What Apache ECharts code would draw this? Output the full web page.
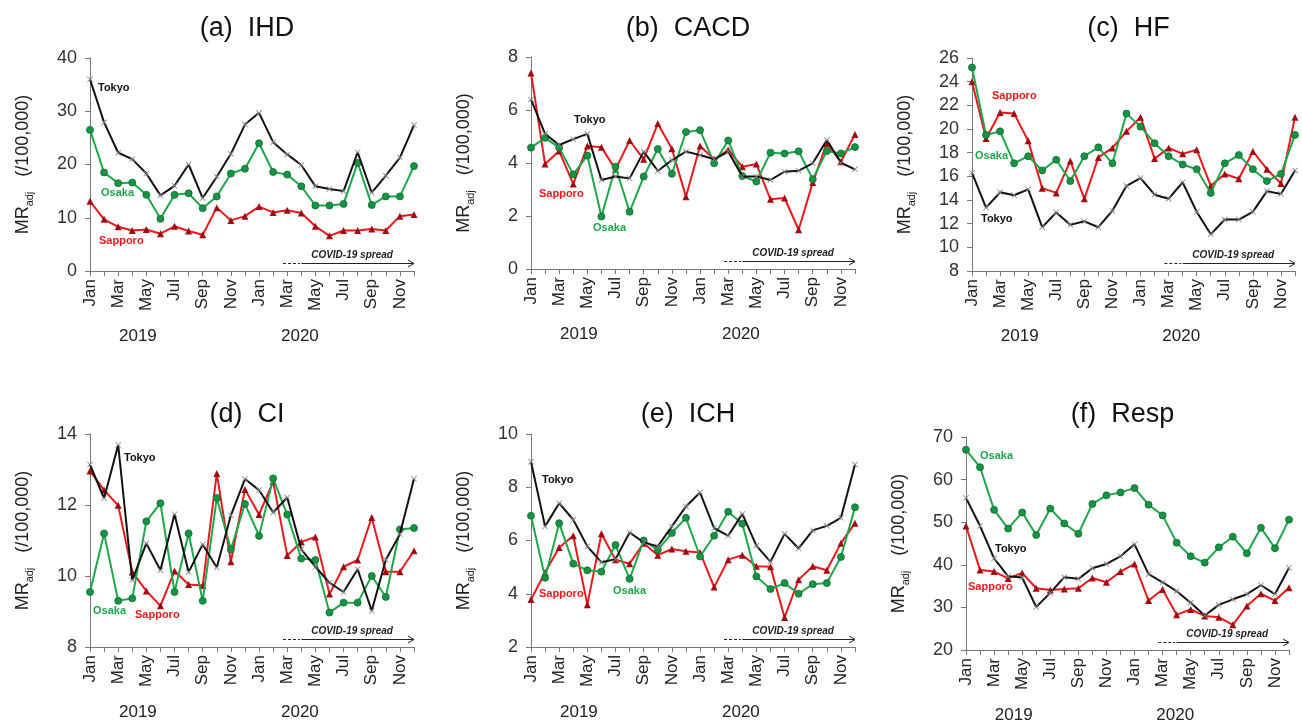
<!DOCTYPE html>
<html>
<head>
<meta charset="utf-8">
<script src="https://cdn.jsdelivr.net/npm/echarts@6/dist/echarts.min.js"></script>
<style>
  html, body { margin: 0; padding: 0; background: #fff; }
  #chart { width: 1302px; height: 725px; }
</style>
</head>
<body>
<div id="chart"></div>
<script>
// months Jan 2019 .. Dec 2020
var months = ['Jan','Feb','Mar','Apr','May','Jun','Jul','Aug','Sep','Oct','Nov','Dec',
              'Jan','Feb','Mar','Apr','May','Jun','Jul','Aug','Sep','Oct','Nov','Dec'];
var years = ['2019', '2020'];
var cities = ['Tokyo', 'Osaka', 'Sapporo'];
var titles = ['(a)  IHD', '(b)  CACD', '(c)  HF', '(d)  CI', '(e)  ICH', '(f)  Resp'];

// (a) IHD
var tokyoIHD   = [36.0,27.9,22.2,21.0,18.3,14.2,16.0,20.0,13.7,17.7,22.0,27.5,29.7,24.2,21.9,19.9,15.9,15.4,15.0,22.3,14.7,17.9,21.3,27.4];
var osakaIHD   = [26.5,18.5,16.5,16.6,14.3,9.8,14.3,14.6,11.8,14.0,18.3,19.2,24.0,18.6,18.1,15.9,12.3,12.3,12.6,20.3,12.4,14.0,14.0,19.7];
var sapporoIHD = [13.1,9.7,8.3,7.6,7.8,7.0,8.4,7.5,6.8,11.9,9.5,10.3,12.1,11.0,11.4,10.9,8.4,6.6,7.6,7.6,7.9,7.6,10.3,10.6];
// (b) CACD
var tokyoCACD   = [6.4,5.1,4.68,4.9,5.1,3.36,3.49,3.42,4.43,3.7,4.11,4.43,4.3,4.14,4.43,3.49,3.49,3.36,3.67,3.71,3.99,4.87,4.01,3.76];
var osakaCACD   = [4.58,4.95,4.58,3.57,4.28,1.98,3.86,2.16,3.49,4.53,3.59,5.17,5.24,3.99,4.85,3.51,3.3,4.39,4.36,4.44,3.39,4.45,4.36,4.6];
var sapporoCACD = [7.4,3.96,4.45,3.21,4.64,4.59,3.76,4.85,4.14,5.49,4.54,2.73,4.64,4.14,4.49,3.86,3.96,2.63,2.68,1.48,3.26,4.74,4.05,5.08];
// (c) HF
var tokyoHF   = [16.3,13.35,14.65,14.4,14.9,11.7,12.95,11.9,12.2,11.7,13.1,15.2,15.85,14.45,14.1,15.5,13.0,11.1,12.35,12.35,13.0,14.75,14.5,16.5];
var osakaHF   = [25.2,19.5,19.8,17.1,17.7,16.5,17.4,15.6,17.7,18.45,17.1,21.3,20.2,18.8,17.7,17.0,16.6,14.6,17.1,17.8,16.6,15.6,16.2,19.5];
var sapporoHF = [24.0,19.2,21.4,21.3,19.0,15.0,14.6,17.3,14.1,17.6,18.4,19.8,21.0,17.5,18.4,17.9,18.25,15.2,16.2,15.8,18.1,16.6,15.4,21.0];
// (d) CI
var tokyoCI   = [13.14,12.19,13.69,9.88,10.92,10.16,11.74,10.11,10.89,10.24,11.71,12.73,12.42,11.79,12.21,10.75,10.26,9.81,9.55,10.19,9.02,10.46,11.18,12.74];
var osakaCI   = [9.55,11.2,9.3,9.37,11.54,12.05,9.55,11.2,9.3,12.2,10.75,12.03,11.13,12.75,11.73,10.49,10.45,8.97,9.25,9.25,10.0,9.41,11.31,11.35];
var sapporoCI = [12.96,12.42,11.99,10.11,9.58,9.16,10.14,9.76,9.73,12.89,10.4,12.44,11.73,12.66,10.58,10.96,11.1,9.49,10.26,10.45,11.65,10.12,10.12,10.71];
// (e) ICH
var tokyoICH   = [8.96,6.53,7.4,6.78,5.78,5.18,5.3,6.3,5.93,5.78,6.53,7.28,7.8,6.46,6.18,7.0,5.81,5.2,6.25,5.7,6.38,6.55,6.85,8.85];
var osakaICH   = [6.93,4.6,6.65,5.13,4.88,4.83,5.83,4.56,6.0,5.65,6.28,6.85,5.4,6.18,7.08,6.63,4.65,4.18,4.4,4.0,4.36,4.4,5.38,7.25];
var sapporoICH = [3.78,4.8,5.74,6.18,3.59,6.25,5.28,5.13,5.9,5.45,5.68,5.6,5.55,4.25,5.28,5.45,5.03,5.01,3.11,4.53,5.03,4.88,5.9,6.65];
// (f) Resp
var tokyoResp   = [55.7,49.1,41.5,37.3,37.0,30.1,33.4,37.1,36.7,39.2,40.2,42.0,44.8,37.8,35.9,33.8,31.1,28.1,30.6,31.9,33.1,35.2,33.1,39.3];
var osakaResp   = [67.0,62.9,52.9,48.5,52.3,47.0,53.2,49.7,47.3,54.3,56.3,57.0,58.0,54.1,51.6,45.2,42.0,40.5,44.1,46.6,42.7,48.7,43.9,50.6];
var sapporoResp = [49.1,38.8,38.4,36.8,38.1,34.5,34.1,34.3,34.5,36.9,35.9,38.4,40.2,31.6,34.2,28.3,29.5,28.0,27.7,25.9,30.3,33.2,31.6,34.6];

var panelData = [
  [tokyoIHD, osakaIHD, sapporoIHD],
  [tokyoCACD, osakaCACD, sapporoCACD],
  [tokyoHF, osakaHF, sapporoHF],
  [tokyoCI, osakaCI, sapporoCI],
  [tokyoICH, osakaICH, sapporoICH],
  [tokyoResp, osakaResp, sapporoResp]
];
var yMin = [0, 0, 8, 8, 2, 20];
var yMax = [40, 8, 26, 14, 10, 70];
var yStep = [10, 2, 2, 2, 2, 10];

// layout
var grids = [
  {left: 90,  top: 58,  width: 324, height: 213},
  {left: 531, top: 57,  width: 324, height: 212},
  {left: 972, top: 58,  width: 323, height: 213},
  {left: 90,  top: 434, width: 324, height: 213},
  {left: 531, top: 434, width: 324, height: 213},
  {left: 966, top: 437, width: 323, height: 213}
];
var titleTop = [10, 10, 10, 396, 396, 396];
// city label offsets from grid top-left, per panel: Tokyo, Osaka, Sapporo
var labelOffsets = [
  [[8, 31], [11, 136], [9, 184]],
  [[43, 64], [62, 172], [8, 138]],
  [[9, 162], [3, 99], [20, 39]],
  [[34, 25], [3, 178], [45, 182]],
  [[11, 47], [82, 158], [8, 161]],
  [[29, 113], [14, 20], [2, 151]]
];

var lineColors = ['#111111', '#1fa64a', '#e8191c'];
var markColors = ['#8a8a8a', '#179443', '#a00d10'];
var xSymbol = 'path://M0,1L1,0L5,4L9,0L10,1L6,5L10,9L9,10L5,6L1,10L0,9L4,5Z';
var symbols = [xSymbol, 'circle', 'triangle'];
var symbolSizes = [6, 7, 7];
var font = 'Liberation Sans, Arial, sans-serif';

var option = {
  backgroundColor: '#fff',
  animation: false,
  title: [],
  grid: [],
  xAxis: [],
  yAxis: [],
  series: [],
  graphic: []
};

grids.forEach(function(g, p){
  var step = g.width / 23;
  option.grid.push({left: g.left, top: g.top, width: g.width, height: g.height});
  option.title.push({
    text: titles[p],
    left: g.left + g.width / 2 - 10,
    top: titleTop[p],
    textAlign: 'center',
    textStyle: {fontFamily: font, fontSize: 27, fontWeight: 'normal', color: '#111'}
  });
  option.xAxis.push({
    type: 'category', gridIndex: p, data: months, boundaryGap: false,
    axisLine: {lineStyle: {color: '#777', width: 1}},
    axisTick: {show: true, interval: 0, length: 5, lineStyle: {color: '#777'}},
    axisLabel: {interval: 1, rotate: 90, margin: 8, fontFamily: font, fontSize: 17, color: '#222'},
    splitLine: {show: false}
  });
  option.yAxis.push({
    type: 'value', gridIndex: p, min: yMin[p], max: yMax[p], interval: yStep[p],
    axisLine: {show: true, lineStyle: {color: '#777', width: 1}},
    axisTick: {show: true, length: 5, lineStyle: {color: '#777'}},
    axisLabel: {fontFamily: font, fontSize: 18, color: '#333', margin: 13},
    splitLine: {show: false},
    name: '{m|MR}{s|adj}{m|   (/100,000)}',
    nameLocation: 'middle', nameRotate: 90, nameGap: 58,
    nameTextStyle: {
      rich: {
        m: {fontFamily: font, fontSize: 18, color: '#222'},
        s: {fontFamily: font, fontSize: 11, color: '#222', verticalAlign: 'bottom', padding: [0, 0, -3, 0]}
      }
    }
  });
  cities.forEach(function(c, k){
    option.series.push({
      name: c, type: 'line', xAxisIndex: p, yAxisIndex: p,
      data: panelData[p][k],
      symbol: symbols[k], symbolSize: symbolSizes[k], showAllSymbol: true,
      lineStyle: {color: lineColors[k], width: 2},
      itemStyle: {color: markColors[k], borderColor: k === 1 ? '#0e6b2e' : markColors[k], borderWidth: k === 1 ? 0.8 : 0},
      z: 3 - k
    });
    option.graphic.push({
      type: 'text', left: g.left + labelOffsets[p][k][0], top: g.top + labelOffsets[p][k][1] - 7,
      style: {text: c, fill: lineColors[k], font: 'bold 11px ' + font}
    });
  });
  // year labels
  option.graphic.push({
    type: 'text', x: g.left + 3.4 * step, y: g.top + g.height + 65,
    style: {text: years[0], fill: '#222', font: '17px ' + font, textAlign: 'center', textVerticalAlign: 'middle'}
  });
  option.graphic.push({
    type: 'text', x: g.left + 14.9 * step, y: g.top + g.height + 65,
    style: {text: years[1], fill: '#222', font: '17px ' + font, textAlign: 'center', textVerticalAlign: 'middle'}
  });
  // COVID-19 spread arrow
  var ay = g.top + g.height - 7.5;
  var xe = g.left + g.width;
  option.graphic.push({
    type: 'line', shape: {x1: g.left + 13.7 * step, y1: ay, x2: g.left + 14.9 * step, y2: ay},
    style: {stroke: '#222', lineWidth: 1, lineDash: [3, 2]}
  });
  option.graphic.push({
    type: 'line', shape: {x1: g.left + 15 * step, y1: ay, x2: xe, y2: ay},
    style: {stroke: '#222', lineWidth: 1}
  });
  option.graphic.push({
    type: 'polyline', shape: {points: [[xe - 6, ay - 3.5], [xe, ay], [xe - 6, ay + 3.5]]},
    style: {stroke: '#222', lineWidth: 1, fill: null}
  });
  option.graphic.push({
    type: 'text', x: g.left + 18.6 * step, y: ay - 8,
    style: {text: 'COVID-19 spread', fill: '#222', font: 'italic bold 10px ' + font, textAlign: 'center', textVerticalAlign: 'middle'}
  });
});

var chart = echarts.init(document.getElementById('chart'));
chart.setOption(option);
</script>
</body>
</html>
